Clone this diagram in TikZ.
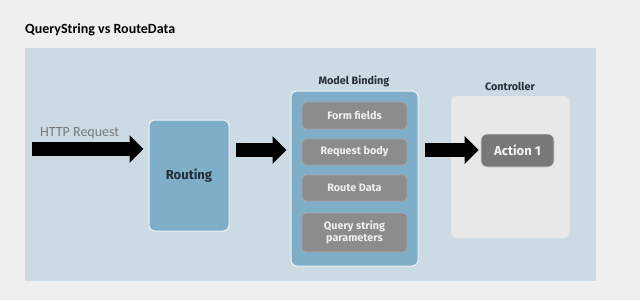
\documentclass[tikz,border=0pt]{standalone}
\usepackage{fontspec}
\setmainfont{Carlito}
\newfontfamily\dinfont{Fira Sans}
\usetikzlibrary{arrows.meta}
\definecolor{bgc}{HTML}{EFEFEF}
\definecolor{panelc}{HTML}{CCDBE3}
\definecolor{bluebox}{HTML}{7FAEC8}
\definecolor{grayin}{HTML}{8C8C8C}
\definecolor{grayedge}{HTML}{A8A8A8}
\definecolor{ctrlc}{HTML}{E8E8E8}
\definecolor{actc}{HTML}{787878}
\definecolor{lbl}{HTML}{262E36}
\tikzset{
  box/.style={draw=white!85!bluebox, line width=1pt, fill=bluebox, rounded corners=6pt, inner sep=0pt},
  inbox/.style={draw=grayedge, line width=0.8pt, fill=grayin, rounded corners=4pt, minimum width=105pt, inner sep=0pt, align=center, text=white!88!gray, font=\dinfont\fontsize{10.8}{12.5}\selectfont\bfseries},
  bigarrow/.style={line width=14pt, -{Triangle[length=14pt,width=27pt]}, black},
  grouplabel/.style={font=\dinfont\fontsize{10.8}{12}\selectfont\bfseries, text=lbl, inner sep=0pt}
}
\begin{document}
\begin{tikzpicture}[x=1pt,y=-1pt]
\useasboundingbox (0,0) rectangle (640,300);
\fill[bgc] (0,0) rectangle (640,300);
\fill[panelc] (25,48) rectangle (596,281);
\node[anchor=base west, inner sep=0pt, font=\fontsize{14}{16}\selectfont\bfseries] (title) at (25,33) {QueryString vs RouteData};
\node[anchor=base west, inner sep=0pt, text=gray!95!black, font=\fontsize{14}{16}\selectfont] (http) at (40,136) {HTTP Request};
% Routing
\node[box, minimum width=80pt, minimum height=111pt, font=\dinfont\fontsize{13}{15}\selectfont\bfseries, text=lbl] (routing) at (189,175.5) {Routing};
% Model Binding
\node[box, minimum width=127pt, minimum height=175pt] (mb) at (354.5,178.5) {};
\node[grouplabel] (mbl) at (354,81) {Model Binding};
\node[inbox, minimum height=27pt] (ff) at (354.5,115.5) {Form fields};
\node[inbox, minimum height=26pt] (rb) at (354.5,152) {Request body};
\node[inbox, minimum height=26pt] (rd) at (354.5,188) {Route Data};
\node[inbox, minimum height=39pt] (qs) at (354.5,232.5) {Query string\\[-1pt]parameters};
% Controller
\node[fill=ctrlc, rounded corners=6pt, minimum width=119pt, minimum height=142pt, inner sep=0pt] (ctrl) at (510.5,167) {};
\node[grouplabel] (ctrll) at (510,86) {Controller};
\node[draw=white!70!actc, line width=0.8pt, fill=actc, rounded corners=6pt, minimum width=73pt, minimum height=33pt, inner sep=0pt, text=white!92!gray, font=\dinfont\fontsize{13}{15}\selectfont\bfseries] (act) at (517.5,150.5) {Action 1};
% arrows
\coordinate (a0) at (32,149);
\coordinate (h1) at (0,150);
\draw[bigarrow, shorten >=5pt] (a0) -- (a0 -| routing.west);
\draw[bigarrow, shorten <=6pt, shorten >=4pt] (routing.east |- h1) -- (mb.west |- h1);
\draw[bigarrow, shorten <=6pt, shorten >=2pt] (mb.east |- h1) -- (act.west |- h1);
\end{tikzpicture}
\end{document}
